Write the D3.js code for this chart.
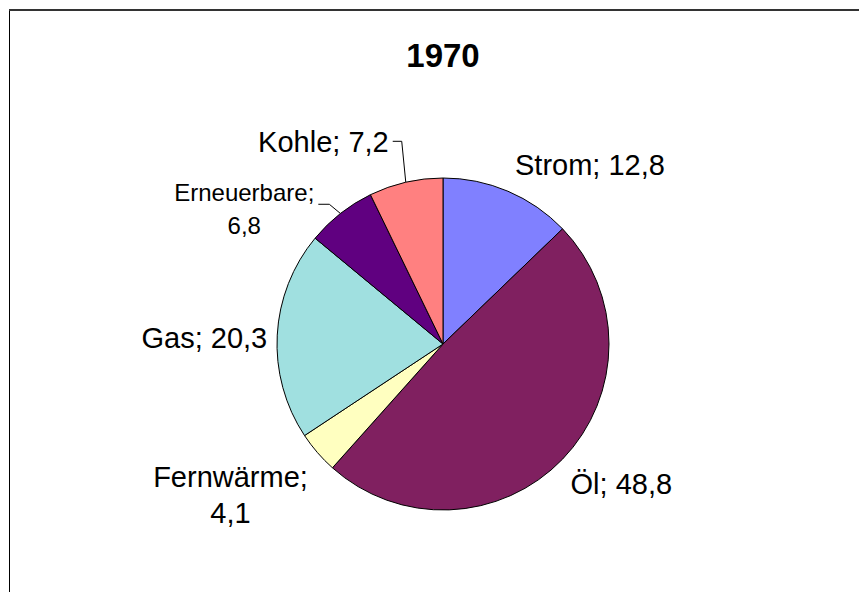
<!DOCTYPE html>
<html>
<head>
<meta charset="utf-8">
<script src="https://cdn.jsdelivr.net/npm/d3@7"></script>
<style>
  body { margin: 0; background: #fff; }
  svg { display: block; font-family: "Liberation Sans", Arial, sans-serif; }
</style>
</head>
<body>
<div id="chart"></div>
<script>
// Endenergieverbrauch nach Energieträgern, 1970 (%)
var title = "1970";
var categories = ["Strom", "Öl", "Fernwärme", "Gas", "Erneuerbare", "Kohle"];
var values = [12.8, 48.8, 4.1, 20.3, 6.8, 7.2];
var colors = ["#8080ff", "#802060", "#ffffc0", "#a0e0e0", "#600080", "#ff8080"];

var width = 859, height = 592;
var cx = 443, cy = 344, radius = 166;

// label layout: which ones wrap, smaller font, small shifts, pushed labels get a leader line
var wrapped = {"Fernwärme": true, "Erneuerbare": true};
var fontSize = {"Erneuerbare": 24};
var lineStep = {"Fernwärme": 36, "Erneuerbare": 33};
var nudge = {"Kohle": [-13, -13], "Erneuerbare": [-15, 35], "Gas": [8, 3], "Fernwärme": [4, 0], "Öl": [-5, 0]};
var leader = {"Kohle": true, "Erneuerbare": true};

var fmt = function(v) { return String(v).replace(".", ","); };

var svg = d3.select("#chart").append("svg")
  .attr("width", width)
  .attr("height", height);

// chart frame (runs off the right and bottom edge)
svg.append("rect")
  .attr("x", 9.5).attr("y", 9.5)
  .attr("width", width + 20).attr("height", height + 20)
  .attr("fill", "none")
  .attr("stroke", "#000")
  .attr("stroke-width", 1);
svg.append("line")
  .attr("x1", 9).attr("x2", width)
  .attr("y1", 10).attr("y2", 10)
  .attr("stroke", "#333").attr("stroke-width", 2);

svg.append("text")
  .attr("x", cx).attr("y", 67)
  .attr("text-anchor", "middle")
  .attr("font-size", 33)
  .attr("font-weight", "bold")
  .text(title);

var data = categories.map(function(c, i) { return {name: c, value: values[i], color: colors[i]}; });

var pie = d3.pie().sort(null).value(function(d) { return d.value; });
var arc = d3.arc().innerRadius(0).outerRadius(radius);
var arcs = pie(data);

var g = svg.append("g").attr("transform", "translate(" + cx + "," + cy + ")");
g.selectAll("path")
  .data(arcs)
  .enter().append("path")
  .attr("d", arc)
  .attr("fill", function(d) { return d.data.color; })
  .attr("stroke", "#000")
  .attr("stroke-width", 1);

// data labels, placed outside the slice like Excel does
arcs.forEach(function(d) {
  var name = d.data.name;
  var size = fontSize[name] || 29;
  var lh = lineStep[name] || size * 1.25;
  var lines = wrapped[name] ? [name + ";", fmt(d.data.value)] : [name + "; " + fmt(d.data.value)];
  var mid = (d.startAngle + d.endAngle) / 2;
  var s = Math.sin(mid), c = Math.cos(mid);
  var px = cx + (radius + 18) * s, py = cy - (radius + 18) * c;

  var lg = svg.append("g");
  var texts = lg.selectAll("text")
    .data(lines)
    .enter().append("text")
    .attr("text-anchor", "middle")
    .attr("font-size", size)
    .attr("fill", "#000")
    .text(function(t) { return t; });
  var w = 0;
  texts.each(function() { w = Math.max(w, this.getComputedTextLength()); });

  var capH = size * 0.716;
  var boxH = capH + (lines.length - 1) * lh;
  var left = Math.abs(s) < 0.2 ? px - w / 2 : (s > 0 ? px : px - w);
  var top = c > 0.3 ? py - boxH : (c < -0.3 ? py + 2 : py - boxH / 2);
  var nd = nudge[name];
  if (nd) { left += nd[0]; top += nd[1]; }

  texts.attr("x", left + w / 2)
    .attr("y", function(t, i) { return top + capH + i * lh; });

  if (leader[name]) {
    var ly = top + capH * 0.5 + (lines.length - 1) * lh * 0.35;
    var pts = [[left + w + 4, ly], [px, ly], [cx + radius * s, cy - radius * c]];
    lg.append("path")
      .attr("d", d3.line()(pts))
      .attr("fill", "none")
      .attr("stroke", "#000")
      .attr("stroke-width", 1);
  }
});
</script>
</body>
</html>
